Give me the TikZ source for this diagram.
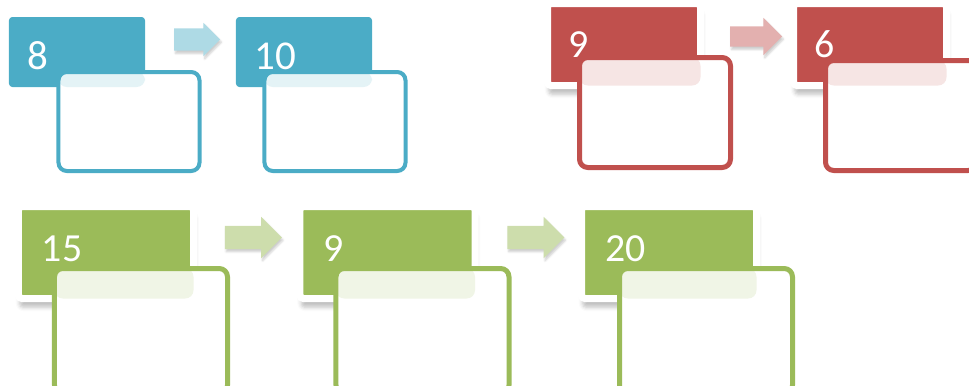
\documentclass[tikz,border=0pt]{standalone}
\usepackage{fontspec}
\setmainfont{Carlito}
\usetikzlibrary{shapes.arrows,shadows.blur}
\definecolor{tblue}{HTML}{4BACC6}
\definecolor{tred}{HTML}{C0504D}
\definecolor{tgreen}{HTML}{9BBB59}

\begin{document}
\begin{tikzpicture}[x=0.03cm,y=-0.03cm,
    tab/.style={fill=#1,rounded corners=0.1cm,inner ysep=0pt,outer sep=0pt,text=white,align=left},
    framed/.style={draw=white,line width=0.21cm,
      blur shadow={shadow opacity=25,shadow xshift=0.04cm,shadow yshift=-0.26cm,shadow blur radius=0.12cm}},
    card/.style 2 args={draw=#1,fill=white,rounded corners=0.25cm,outer sep=0pt,
      path picture={\fill[#1!15] (path picture bounding box.north west) rectangle (#2.south east);}},
    blockarrow/.style={single arrow,fill=#1,inner xsep=0pt,outer sep=0pt,
      blur shadow={shadow opacity=20,shadow xshift=0.04cm,shadow yshift=-0.08cm,shadow blur radius=0.06cm}}]
  \path[use as bounding box] (0,0) rectangle (969,385);
  \clip (0,0) rectangle (969,385);
  % blue pair
  \foreach \i/\tx/\cx/\val in {1/77/129/8,2/304/335/10} {
    \node[tab=tblue,minimum width=4.08cm,minimum height=2.1cm,inner xsep=0.56cm,text width=2.96cm,
      text height=1.06cm,text depth=0pt,font=\fontsize{35}{35}\selectfont] (bt\i) at (\tx,52) {\val};
    \node[card={tblue}{bt\i},line width=0.12cm,minimum width=4.23cm,minimum height=2.97cm] (bc\i) at (\cx,121.5) {};
  }
  \node[blockarrow=tblue!45,minimum height=1.38cm,inner ysep=0.33cm,single arrow head extend=0.165cm] (ba1) at (191.5,39.5) {};
  % red pair
  \foreach \i/\tx/\cx/\cy/\val in {1/624/655/112.5/9,2/870/901/115.5/6} {
    \node[tab=tred,framed,minimum width=4.59cm,minimum height=2.46cm,inner xsep=0.63cm,text width=3.33cm,
      text height=0.75cm,text depth=0pt,font=\fontsize{34}{34}\selectfont] (rt\i) at (\tx,44.5) {\val};
    \node[card={tred}{rt\i},line width=0.15cm,minimum width=4.53cm,minimum height=3.3cm] (rc\i) at (\cx,\cy) {};
  }
  \node[blockarrow=tred!45,minimum height=1.56cm,inner ysep=0.3cm,single arrow head extend=0.255cm] (ra1) at (751,36.5) {};
  % green row
  \foreach \i/\tx/\cx/\val in {1/106/141/15,2/387.5/422.5/9,3/669/706/20} {
    \node[tab=tgreen,framed,minimum width=5.25cm,minimum height=2.76cm,inner xsep=0.705cm,text width=3.84cm,
      text height=0.76cm,text depth=0.24cm,font=\fontsize{34}{34}\selectfont] (gt\i) at (\tx,252.5) {\val};
    \node[card={tgreen}{gt\i},line width=0.15cm,minimum width=5.19cm,minimum height=3.75cm] (gc\i) at (\cx,331) {};
  }
  \foreach \i/\ax in {1/247.5,2/530}
    \node[blockarrow=tgreen!50,minimum height=1.71cm,inner ysep=0.34cm,single arrow head extend=0.27cm] (ga\i) at (\ax,237.5) {};
\end{tikzpicture}
\end{document}
